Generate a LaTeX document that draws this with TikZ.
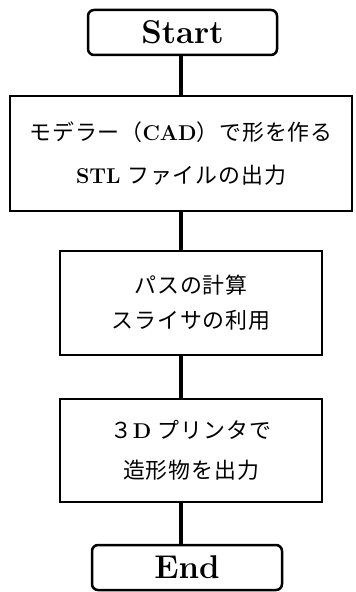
\documentclass[tikz,border=0pt]{standalone}
\usepackage{fontspec}
\newfontfamily\jpfont[LetterSpace=4]{Noto Sans CJK JP}
\newcommand{\jp}[1]{{\jpfont\fontsize{22}{40}\selectfont #1}}
\newcommand{\lt}[1]{{\fontsize{21.5}{40}\selectfont\bfseries #1}}
\tikzset{
  term/.style={draw=black, line width=2.5bp, rounded corners=6bp, minimum width=189bp, minimum height=45bp, inner sep=0pt, outer sep=0pt, font=\fontsize{33}{33}\selectfont\bfseries},
  stepbox/.style={draw=black, line width=2.5bp, minimum width=262bp, inner sep=0pt, outer sep=0pt, align=center, font=\fontsize{22}{40}\selectfont},
  conn/.style={draw=black, line width=4.5bp}
}
\begin{document}
\begin{tikzpicture}[x=1bp, y=-1bp]
\useasboundingbox (0,0) rectangle (355,592);
\node[term] (start) at (182.5,32.5) {Start};
\node[stepbox, minimum width=342bp, minimum height=115bp] (b1) at (181,153.5)
  {\jp{モデラー（}\lt{CAD}\jp{）で形を作る}\\[3bp] \lt{STL}\ \jp{ファイルの出力}};
\node[stepbox, minimum height=104bp] (b2) at (191,303)
  {\jp{パスの計算}\\[-5bp]\jp{スライサの利用}};
\node[stepbox, minimum height=103bp] (b3) at (191,450.5)
  {\jp{３}\lt{D}\ \jp{プリンタで}\\\jp{造形物を出力}};
\node[term, minimum width=190bp] (end) at (187,567.5) {End};
\draw[conn] (start.south -| b1.north) -- (b1.north);
\draw[conn] (b1.south) -- (b1.south |- b2.north);
\draw[conn] (b2.south -| b1.south) -- (b3.north -| b1.south);
\draw[conn] (b3.south -| b1.south) -- (end.north -| b1.south);
\end{tikzpicture}
\end{document}
